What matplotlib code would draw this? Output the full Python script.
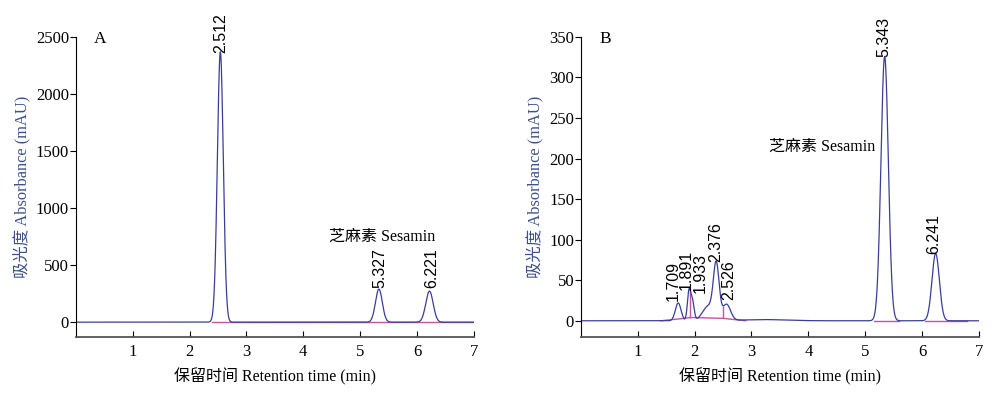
from matplotlib import pyplot as plt
import numpy as np

plt.rcParams['font.family'] = ['Liberation Serif', 'Noto Sans CJK SC']
plt.rcParams['font.size'] = 12

line_color = '#3a3d98'
base_color = '#c2559f'
label_color = '#3b4f8a'
peak_font = ['Liberation Sans', 'DejaVu Sans']

# panel A: peaks (apex time, height mAU, width sigma)
peak_t_a = [2.54, 5.33, 6.22]
peak_h_a = [2370, 290, 272]
peak_w_a = [0.052, 0.060, 0.065]
label_a = ['2.512', '5.327', '6.221']
label_x_a = [2.54, 5.35, 6.26]
label_y_a = [2360, 300, 300]

# panel B
peak_t_b = [1.71, 1.90, 1.96, 2.24, 2.38, 2.56, 3.2, 5.343, 6.241]
peak_h_b = [22, 36, 24, 18, 66, 20, 1.5, 326, 83]
peak_w_b = [0.05, 0.028, 0.03, 0.10, 0.05, 0.07, 0.4, 0.065, 0.065]
label_b = ['1.709', '1.891', '1.933', '2.376', '2.526', '5.343', '6.241']
label_x_b = [1.62, 1.86, 2.09, 2.37, 2.60, 5.33, 6.21]
label_y_b = [24, 38, 34, 72, 26, 325, 82]

# integration baseline and drop lines in B
base_x_b = [1.40, 1.82, 1.93, 2.50, 2.90]
base_y_b = [0, 3, 4, 3, 0]
drop_x_b = [1.82, 1.91, 2.50]


def trace(t, centers, heights, widths):
    y = np.zeros_like(t)
    for c, h, w in zip(centers, heights, widths):
        y += h * np.exp(-0.5 * ((t - c) / w) ** 2)
    return y


def style_axes(ax, ymin, ymax, yticks):
    ax.set_xlim(0, 7)
    ax.set_ylim(ymin, ymax)
    ax.spines['top'].set_visible(False)
    ax.spines['right'].set_visible(False)
    ax.spines['bottom'].set_color('#555555')
    ax.spines['bottom'].set_linewidth(1.3)
    ax.set_xticks(range(1, 8))
    ax.set_yticks(yticks)
    ax.tick_params(axis='x', direction='in', length=4, pad=5)
    ax.tick_params(axis='y', direction='out', length=4, pad=1)
    ax.set_xlabel('保留时间 Retention time (min)', labelpad=6, fontsize=11.5)
    ax.set_ylabel('吸光度 Absorbance (mAU)', color=label_color, labelpad=4,
                  fontsize=11.8)


t = np.linspace(0, 7, 3000)

fig = plt.figure(figsize=(9.92, 3.93), dpi=100)
ax_a = fig.add_axes([0.0766, 0.1425, 0.401, 0.7635])
ax_b = fig.add_axes([0.5857, 0.1425, 0.401, 0.7635])

# A
ya = trace(t, peak_t_a, peak_h_a, peak_w_a)
ax_a.plot([2.4, 7], [0, 0], color=base_color, lw=1.0)
ax_a.plot(t, ya, color=line_color, lw=0.9)
for lab, x, y in zip(label_a, label_x_a, label_y_a):
    ax_a.text(x, y, lab, rotation=90, ha='center', va='bottom', clip_on=False,
              family=peak_font, fontsize=11.5)
ax_a.text(5.39, 747, '芝麻素 Sesamin', ha='center', va='center', fontsize=11.5)
ax_a.text(0.42, 2480, 'A', ha='center', va='center', fontsize=12.5)
style_axes(ax_a, -130, 2500, [0, 500, 1000, 1500, 2000, 2500])

# B
yb = trace(t, peak_t_b, peak_h_b, peak_w_b)
ax_b.plot(base_x_b, base_y_b, color=base_color, lw=1.0)
ax_b.plot([5.15, 5.6], [0, 0], color=base_color, lw=1.0)
ax_b.plot([6.05, 6.8], [0, 0], color=base_color, lw=1.0)
base_at_drop = np.interp(drop_x_b, base_x_b, base_y_b)
curve_at_drop = np.interp(drop_x_b, t, yb)
ax_b.vlines(drop_x_b, base_at_drop, curve_at_drop, color=base_color, lw=1.0)
ax_b.plot(t, yb, color=line_color, lw=0.9)
for lab, x, y in zip(label_b, label_x_b, label_y_b):
    ax_b.text(x, y, lab, rotation=90, ha='center', va='bottom', clip_on=False,
              family=peak_font, fontsize=11.5)
ax_b.text(4.25, 215, '芝麻素 Sesamin', ha='center', va='center', fontsize=11.5)
ax_b.text(0.42, 348, 'B', ha='center', va='center', fontsize=12.5)
style_axes(ax_b, -20, 350, [0, 50, 100, 150, 200, 250, 300, 350])

fig.savefig('out.png', dpi=100)
